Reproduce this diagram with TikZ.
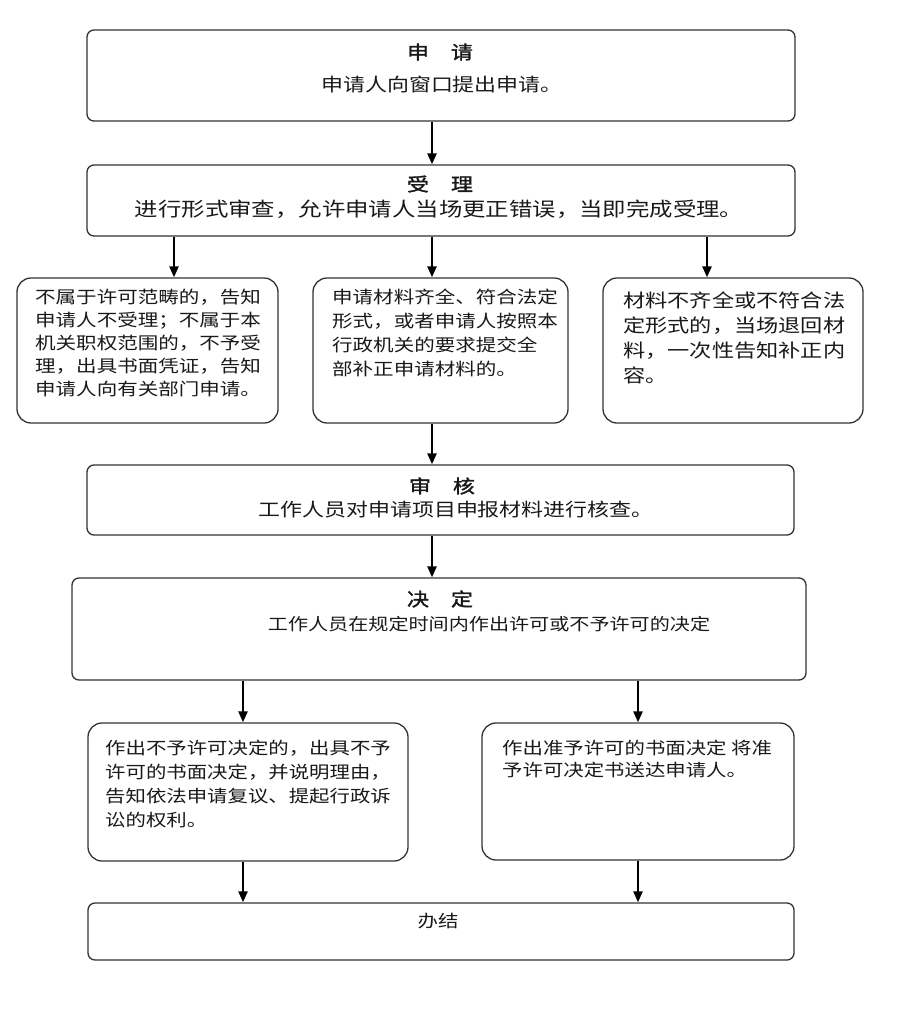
\documentclass[tikz,border=0pt]{standalone}
\usepackage{fontspec}
\setmainfont{Noto Sans CJK SC}[FakeStretch=1.2]
\newfontfamily\titlefont{Noto Sans CJK SC}[FakeStretch=1.2,FakeBold=1.8]
\usetikzlibrary{arrows.meta}
\tikzset{
  box/.style={draw=black!80, line width=1.3pt, fill=white, inner sep=0pt, rounded corners=7pt},
  smallbox/.style={box, rounded corners=14pt},
  arr/.style={line width=2.4pt, draw=black, -{Triangle[length=11pt,width=9pt]}},
  txt/.style={inner sep=0pt, text=black!90},
  ttl/.style={txt, font=\titlefont\fontsize{18.3}{20}\selectfont},
  para/.style={txt, anchor=north west, align=left},
}
\begin{document}
\begin{tikzpicture}[x=1pt,y=-1pt]
\useasboundingbox (0,0) rectangle (907,1009);
% boxes
\node[box, minimum width=708pt, minimum height=91pt] (b1) at (441,75.5) {};
\node[box, minimum width=708pt, minimum height=71pt] (b2) at (441,200.5) {};
\node[smallbox, minimum width=261pt, minimum height=145pt] (l1) at (147.5,350.5) {};
\node[smallbox, minimum width=255pt, minimum height=145pt] (l2) at (440.5,350.5) {};
\node[smallbox, minimum width=260pt, minimum height=145pt] (l3) at (733,350.5) {};
\node[box, minimum width=707pt, minimum height=70pt] (b3) at (440.5,500) {};
\node[box, minimum width=734pt, minimum height=102pt] (b4) at (439,629) {};
\node[smallbox, minimum width=320pt, minimum height=138pt] (d1) at (248,792) {};
\node[smallbox, minimum width=312pt, minimum height=137pt] (d2) at (638,791.5) {};
\node[box, minimum width=706pt, minimum height=57pt] (b5) at (441,931.5) {};
% texts
\node[ttl] (t1) at (440,52) {申　请};
\node[txt, font=\fontsize{18.3}{20}\selectfont] (s1) at (442,85) {申请人向窗口提出申请。};
\node[ttl] (t2) at (440,184) {受　理};
\node[txt, font=\fontsize{19.5}{22}\selectfont] (s2) at (439,209) {进行形式审查，允许申请人当场更正错误，当即完成受理。};
\node[para, font=\fontsize{17.1}{23}\selectfont] (p1) at (35,289) {不属于许可范畴的，告知\\申请人不受理；不属于本\\机关职权范围的，不予受\\理，出具书面凭证，告知\\申请人向有关部门申请。};
\node[para, font=\fontsize{17.1}{24}\selectfont] (p2) at (332,289) {申请材料齐全、符合法定\\形式，或者申请人按照本\\行政机关的要求提交全\\部补正申请材料的。};
\node[para, font=\fontsize{18.5}{25}\selectfont] (p3) at (623,292) {材料不齐全或不符合法\\定形式的，当场退回材\\料，一次性告知补正内\\容。};
\node[ttl] (t3) at (442,486) {审　核};
\node[txt, font=\fontsize{18.3}{20}\selectfont] (s3) at (456,510) {工作人员对申请项目申报材料进行核查。};
\node[ttl] (t4) at (440,599) {决　定};
\node[txt, font=\fontsize{16.75}{20}\selectfont] (s4) at (489,624) {工作人员在规定时间内作出许可或不予许可的决定};
\node[para, font=\fontsize{17}{24}\selectfont] (q1) at (105,740) {作出不予许可决定的，出具不予\\许可的书面决定，并说明理由，\\告知依法申请复议、提起行政诉\\讼的权利。};
\node[para, font=\fontsize{17}{22}\selectfont] (q2) at (502,740) {作出准予许可的书面决定 将准\\予许可决定书送达申请人。};
\node[txt, font=\fontsize{17}{20}\selectfont] (s5) at (438,921) {办结};
% arrow columns
\coordinate (xa) at (174,0);
\coordinate (xb) at (432,0);
\coordinate (xc) at (707,0);
\coordinate (xd) at (243,0);
\coordinate (xe) at (638,0);
% arrows
\draw[arr] (xb |- b1.south) -- (xb |- b2.north);
\draw[arr] (xa |- b2.south) -- (xa |- l1.north);
\draw[arr] (xb |- b2.south) -- (xb |- l2.north);
\draw[arr] (xc |- b2.south) -- (xc |- l3.north);
\draw[arr] (xb |- l2.south) -- (xb |- b3.north);
\draw[arr] (xb |- b3.south) -- (xb |- b4.north);
\draw[arr] (xd |- b4.south) -- (xd |- d1.north);
\draw[arr] (xe |- b4.south) -- (xe |- d2.north);
\draw[arr] (xd |- d1.south) -- (xd |- b5.north);
\draw[arr] (xe |- d2.south) -- (xe |- b5.north);
\end{tikzpicture}
\end{document}
